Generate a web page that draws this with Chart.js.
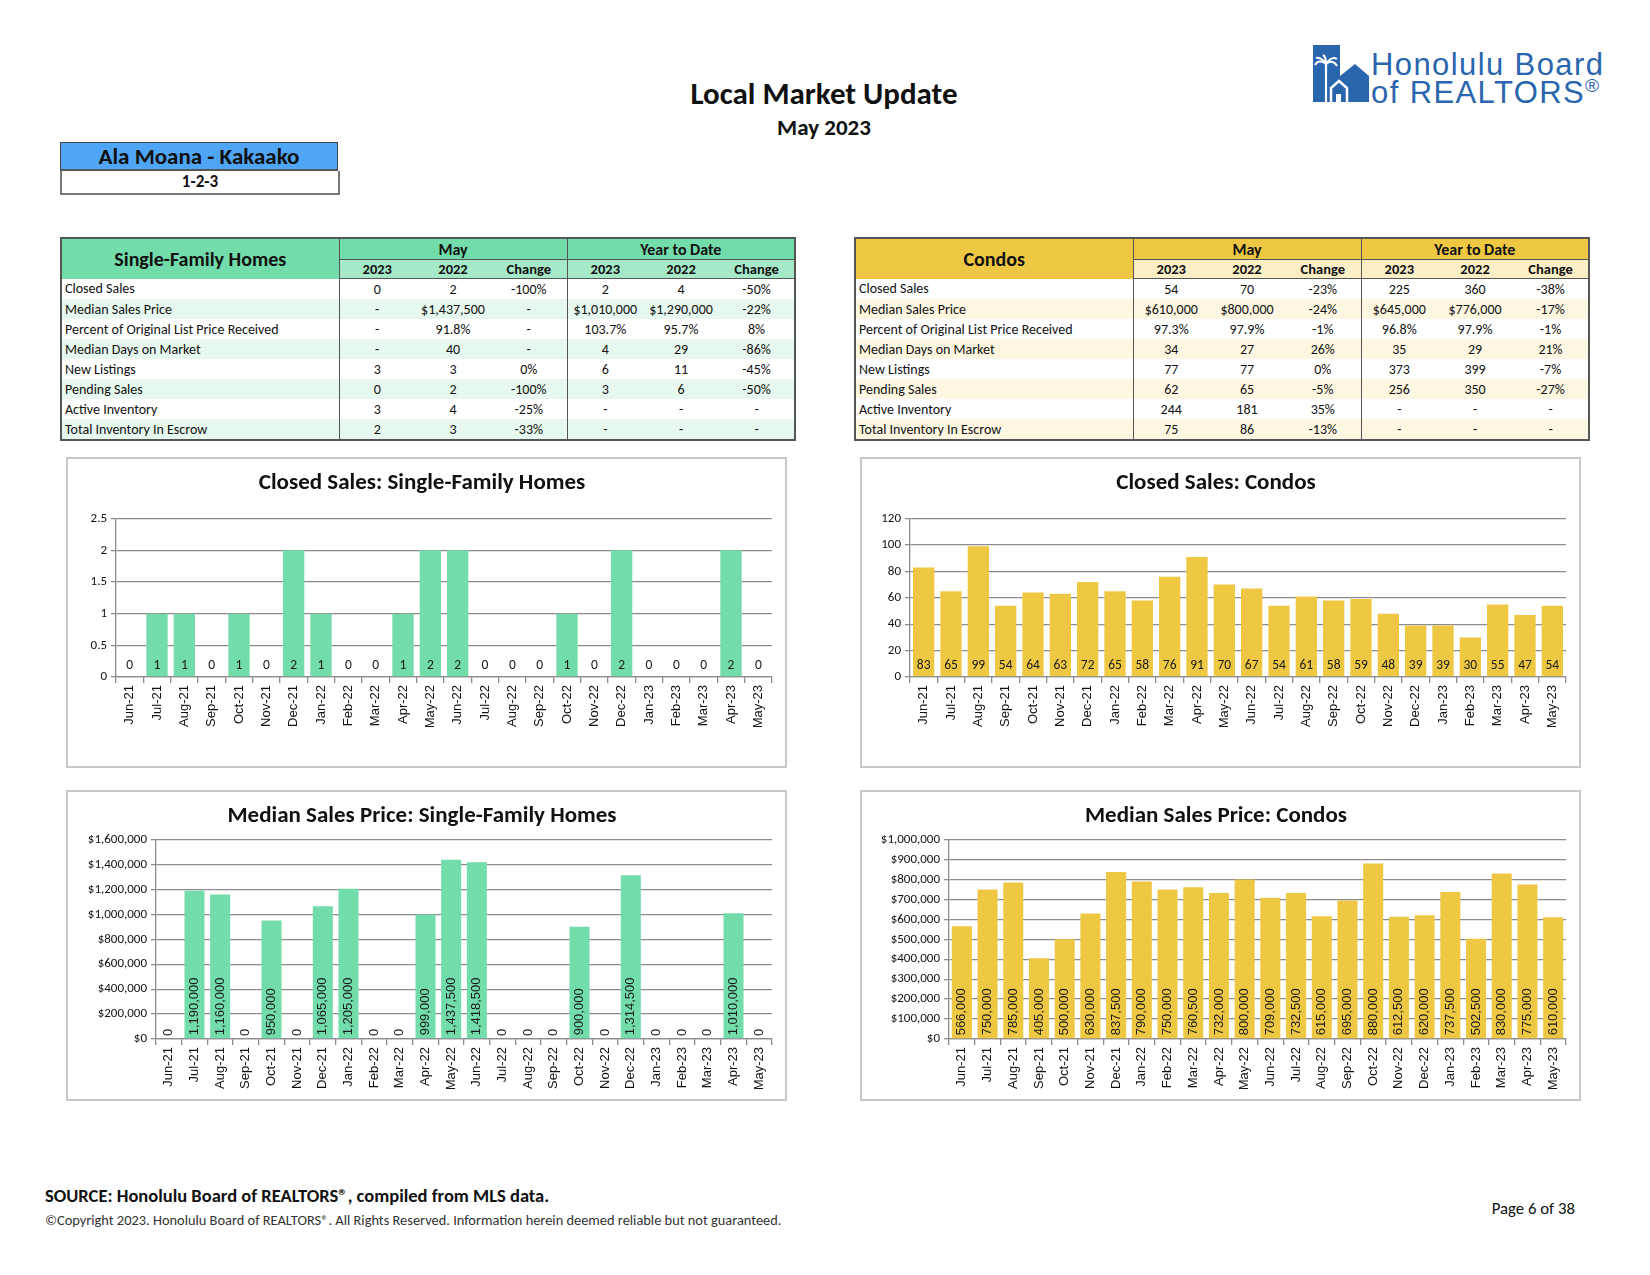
<!DOCTYPE html>
<html>
<head>
<meta charset="utf-8">
<title>Local Market Update - Ala Moana - Kakaako</title>
<script src="https://cdn.jsdelivr.net/npm/chart.js@4.4.0/dist/chart.umd.min.js"></script>
<style>
    body {
        margin: 0;
        width: 1650px;
        height: 1275px;
        position: relative;
        overflow: hidden;
        background: #fff;
        color: #111;
        font-family: Carlito, Calibri, "Liberation Sans Narrow", "DejaVu Sans Condensed", sans-serif;
    }
    .abs { position: absolute; }
    .title { left: 574px; width: 500px; top: 74px; text-align: center; font-size: 31px; font-weight: bold; }
    .subtitle { left: 574px; width: 500px; top: 113px; text-align: center; font-size: 23px; font-weight: bold; }
    .area {
        left: 60px; top: 142px; width: 276px; height: 26px; line-height: 26px;
        background: #4fa5f6; border: 1px solid #444; border-bottom: 2px solid #555;
        text-align: center; font-size: 23px; font-weight: bold;
    }
    .zip {
        left: 60px; top: 171px; width: 276px; height: 22px; line-height: 22px;
        border: 2px solid #777; border-top: none; text-align: center; font-size: 17px; font-weight: bold;
    }
    .logo-text {
        left: 1371px; top: 51px; font-family: "Liberation Sans", Arial, sans-serif; color: #2a66ad;
        font-size: 31px; letter-spacing: 1.4px; line-height: 28px;
    }
    .logo-text sup { font-size: 19px; position: relative; top: -11px; vertical-align: baseline; line-height: 0; }

    table.mkt {
        position: absolute;
        border-collapse: collapse;
        table-layout: fixed;
        border: 2px solid #555;
        font-size: 14px;
    }
    table.mkt td { padding: 0 3px; height: 20px; white-space: nowrap; text-align: center; overflow: hidden; }
    table.mkt td.lbl { text-align: left; }
    table.mkt td.sep { border-left: 1.5px solid #555; }
    table.mkt td.cat { font-size: 20px; font-weight: bold; text-align: center; }
    table.mkt td.grp { font-size: 16px; font-weight: bold; border-bottom: 1px solid #555; height: 20px; }
    table.mkt td.yr { font-size: 14.5px; font-weight: bold; border-bottom: 1.5px solid #555; height: 18px; }

    .box { position: absolute; width: 717px; height: 307px; border: 2px solid #c8c8c8; }
    .box canvas { display: block; }

    .source { left: 45px; top: 1184px; font-size: 18.5px; font-weight: bold; }
    .copy { left: 45px; top: 1211px; font-size: 14.4px; color: #333; }
    .page { left: 1375px; width: 200px; top: 1198px; text-align: right; font-size: 16.8px; }
</style>
</head>
<body>

<div class="abs title">Local Market Update</div>
<div class="abs subtitle">May 2023</div>

<svg class="abs" style="left:1311px; top:44px" width="62" height="60" viewBox="0 0 62 60">
    <polygon points="2,1 29,1 29,32 44,20 58,32 58,58 2,58" fill="#2a66ad"/>
    <!-- palm tree -->
    <path d="M15,58 L15,20" stroke="#fff" stroke-width="2.2" fill="none"/>
    <path d="M15,20 C10,16 6,17 4,21 M15,20 C11,14 7,13 5,14 M15,20 C19,14 23,13 26,15 M15,20 C20,16 24,18 26,22 M15,20 C15,15 14,12 12,11" stroke="#fff" stroke-width="2" fill="none"/>
    <!-- small house -->
    <path d="M20,58 L20,44 L28,37 L36,44 L36,58" stroke="#fff" stroke-width="2.5" fill="none"/>
    <rect x="25" y="50" width="5" height="8" fill="#fff"/>
</svg>
<div class="abs logo-text">Honolulu Board<br>of REALTORS<sup>®</sup></div>

<div class="abs area">Ala Moana - Kakaako</div>
<div class="abs zip">1-2-3</div>

<table class="mkt" id="sfTable" style="left:60px; top:237px; width:736px"></table>
<table class="mkt" id="condoTable" style="left:854px; top:237px; width:736px"></table>

<div class="box" style="left:66px; top:457px"><canvas id="sfClosedChart" width="717" height="307"></canvas></div>
<div class="box" style="left:860px; top:457px"><canvas id="condoClosedChart" width="717" height="307"></canvas></div>
<div class="box" style="left:66px; top:790px"><canvas id="sfPriceChart" width="717" height="307"></canvas></div>
<div class="box" style="left:860px; top:790px"><canvas id="condoPriceChart" width="717" height="307"></canvas></div>

<div class="abs source">SOURCE: Honolulu Board of REALTORS®, compiled from MLS data.</div>
<div class="abs copy">©Copyright 2023. Honolulu Board of REALTORS®. All Rights Reserved. Information herein deemed reliable but not guaranteed.</div>
<div class="abs page">Page 6 of 38</div>

<script>
// Months shown on every chart
const months = ['Jun-21', 'Jul-21', 'Aug-21', 'Sep-21', 'Oct-21', 'Nov-21', 'Dec-21', 'Jan-22',
    'Feb-22', 'Mar-22', 'Apr-22', 'May-22', 'Jun-22', 'Jul-22', 'Aug-22', 'Sep-22', 'Oct-22',
    'Nov-22', 'Dec-22', 'Jan-23', 'Feb-23', 'Mar-23', 'Apr-23', 'May-23'];

const sfClosed = [0, 1, 1, 0, 1, 0, 2, 1, 0, 0, 1, 2, 2, 0, 0, 0, 1, 0, 2, 0, 0, 0, 2, 0];
const condoClosed = [83, 65, 99, 54, 64, 63, 72, 65, 58, 76, 91, 70, 67, 54, 61, 58, 59, 48, 39, 39, 30, 55, 47, 54];
const sfPrice = [0, 1190000, 1160000, 0, 950000, 0, 1065000, 1205000, 0, 0, 999000, 1437500,
    1418500, 0, 0, 0, 900000, 0, 1314500, 0, 0, 0, 1010000, 0];
const condoPrice = [566000, 750000, 785000, 405000, 500000, 630000, 837500, 790000, 750000, 760500,
    732000, 800000, 709000, 732500, 615000, 695000, 880000, 612500, 620000, 737500, 502500, 830000, 775000, 610000];

// Table data
const tableGroups = ['May', 'Year to Date'];
const tableYears = ['2023', '2022', 'Change'];
const tableRowLabels = ['Closed Sales', 'Median Sales Price', 'Percent of Original List Price Received',
    'Median Days on Market', 'New Listings', 'Pending Sales', 'Active Inventory', 'Total Inventory In Escrow'];
const sfTableValues = [
    ['0', '2', '-100%', '2', '4', '-50%'],
    ['-', '$1,437,500', '-', '$1,010,000', '$1,290,000', '-22%'],
    ['-', '91.8%', '-', '103.7%', '95.7%', '8%'],
    ['-', '40', '-', '4', '29', '-86%'],
    ['3', '3', '0%', '6', '11', '-45%'],
    ['0', '2', '-100%', '3', '6', '-50%'],
    ['3', '4', '-25%', '-', '-', '-'],
    ['2', '3', '-33%', '-', '-', '-']
];
const condoTableValues = [
    ['54', '70', '-23%', '225', '360', '-38%'],
    ['$610,000', '$800,000', '-24%', '$645,000', '$776,000', '-17%'],
    ['97.3%', '97.9%', '-1%', '96.8%', '97.9%', '-1%'],
    ['34', '27', '26%', '35', '29', '21%'],
    ['77', '77', '0%', '373', '399', '-7%'],
    ['62', '65', '-5%', '256', '350', '-27%'],
    ['244', '181', '35%', '-', '-', '-'],
    ['75', '86', '-13%', '-', '-', '-']
];

const green = '#72dcaa';
const greenLight = '#a6e9c8';
const greenBand = '#e7f8ef';
const yellow = '#eec842';
const yellowLight = '#fcefc6';
const yellowBand = '#fdf7e1';
const FONT = 'Carlito, Calibri, "Liberation Sans Narrow", "DejaVu Sans Condensed", sans-serif';
const ARIAL = '"Liberation Sans", Arial, sans-serif';

function buildTable(id, category, values, headColor, yearColor, bandColor) {
    const t = document.getElementById(id);
    let html = '<colgroup><col style="width:278px">';
    for (let i = 0; i < 6; i++) html += '<col style="width:76px">';
    html += '</colgroup>';
    html += `<tr style="background:${headColor}"><td class="cat" rowspan="2">${category}</td>`;
    tableGroups.forEach(g => { html += `<td class="grp sep" colspan="3">${g}</td>`; });
    html += `</tr><tr style="background:${yearColor}">`;
    for (let g = 0; g < 2; g++) {
        tableYears.forEach((y, k) => { html += `<td class="yr${k === 0 ? ' sep' : ''}">${y}</td>`; });
    }
    html += '</tr>';
    tableRowLabels.forEach((label, r) => {
        const bg = r % 2 === 1 ? bandColor : '#fff';
        html += `<tr style="background:${bg}"><td class="lbl">${label}</td>`;
        values[r].forEach((v, c) => { html += `<td${c % 3 === 0 ? ' class="sep"' : ''}>${v}</td>`; });
        html += '</tr>';
    });
    t.innerHTML = html;
}

buildTable('sfTable', 'Single-Family Homes', sfTableValues, green, greenLight, greenBand);
buildTable('condoTable', 'Condos', condoTableValues, yellow, yellowLight, yellowBand);

// Value labels drawn near the base of each bar
const barLabels = {
    id: 'barLabels',
    afterDatasetsDraw(chart, args, opts) {
        const { ctx } = chart;
        const meta = chart.getDatasetMeta(0);
        const data = chart.data.datasets[0].data;
        ctx.save();
        ctx.fillStyle = '#1a1a1a';
        ctx.font = opts.font;
        meta.data.forEach((bar, i) => {
            const txt = opts.format(data[i]);
            if (opts.rotate) {
                ctx.save();
                ctx.translate(bar.x, bar.base - opts.offset);
                ctx.rotate(-Math.PI / 2);
                ctx.textAlign = 'left';
                ctx.textBaseline = 'middle';
                ctx.fillText(txt, 0, 0);
                ctx.restore();
            } else {
                ctx.textAlign = 'center';
                ctx.textBaseline = 'middle';
                ctx.fillText(txt, bar.x, bar.base - opts.offset);
            }
        });
        ctx.restore();
    }
};

function makeChart(id, title, values, color, cfg) {
    return new Chart(document.getElementById(id), {
        type: 'bar',
        data: {
            labels: months,
            datasets: [{
                data: values,
                backgroundColor: color,
                borderWidth: 0,
                categoryPercentage: 1,
                barPercentage: 0.78
            }]
        },
        plugins: [barLabels],
        options: {
            responsive: false,
            animation: false,
            layout: { padding: { left: 4, right: 13, top: 0, bottom: cfg.bottomPad } },
            plugins: {
                legend: { display: false },
                tooltip: { enabled: false },
                title: {
                    display: true,
                    text: title,
                    color: '#111',
                    font: { family: FONT, size: 23, weight: 'bold' },
                    padding: { top: 10, bottom: cfg.titleBottom }
                },
                barLabels: cfg.labels
            },
            scales: {
                x: {
                    grid: { offset: true, drawOnChartArea: false, drawTicks: true, tickLength: 6, color: '#8c8c8c', lineWidth: 1.3 },
                    border: { color: '#8c8c8c', width: 1.3 },
                    ticks: { minRotation: 90, maxRotation: 90, color: '#111', font: { family: ARIAL, size: 13 }, padding: 2 },
                    afterFit: s => { s.height = 50; }
                },
                y: {
                    min: 0,
                    max: cfg.max,
                    ticks: {
                        stepSize: cfg.step,
                        color: '#111',
                        font: { family: FONT, size: 13 },
                        padding: 4,
                        callback: cfg.tickFormat
                    },
                    grid: { color: '#8c8c8c', lineWidth: 1.3, tickLength: 5 },
                    border: { color: '#8c8c8c', width: 1.3 },
                    afterFit: s => { s.width = cfg.axisWidth; }
                }
            }
        }
    });
}

const money = v => '$' + Number(v).toLocaleString('en-US');
const plain = v => String(v);
const grouped = v => Number(v).toLocaleString('en-US');

makeChart('sfClosedChart', 'Closed Sales: Single-Family Homes', sfClosed, green, {
    max: 2.5, step: 0.5, axisWidth: 44, bottomPad: 39, titleBottom: 22, tickFormat: plain,
    labels: { font: `13.5px ${FONT}`, format: plain, offset: 11, rotate: false }
});
makeChart('condoClosedChart', 'Closed Sales: Condos', condoClosed, yellow, {
    max: 120, step: 20, axisWidth: 44, bottomPad: 39, titleBottom: 22, tickFormat: plain,
    labels: { font: `13.5px ${FONT}`, format: plain, offset: 11, rotate: false }
});
makeChart('sfPriceChart', 'Median Sales Price: Single-Family Homes', sfPrice, green, {
    max: 1600000, step: 200000, axisWidth: 84, bottomPad: 10, titleBottom: 10, tickFormat: money,
    labels: { font: `13px ${ARIAL}`, format: grouped, offset: 3, rotate: true }
});
makeChart('condoPriceChart', 'Median Sales Price: Condos', condoPrice, yellow, {
    max: 1000000, step: 100000, axisWidth: 83, bottomPad: 10, titleBottom: 10, tickFormat: money,
    labels: { font: `13px ${ARIAL}`, format: grouped, offset: 3, rotate: true }
});
</script>
</body>
</html>
